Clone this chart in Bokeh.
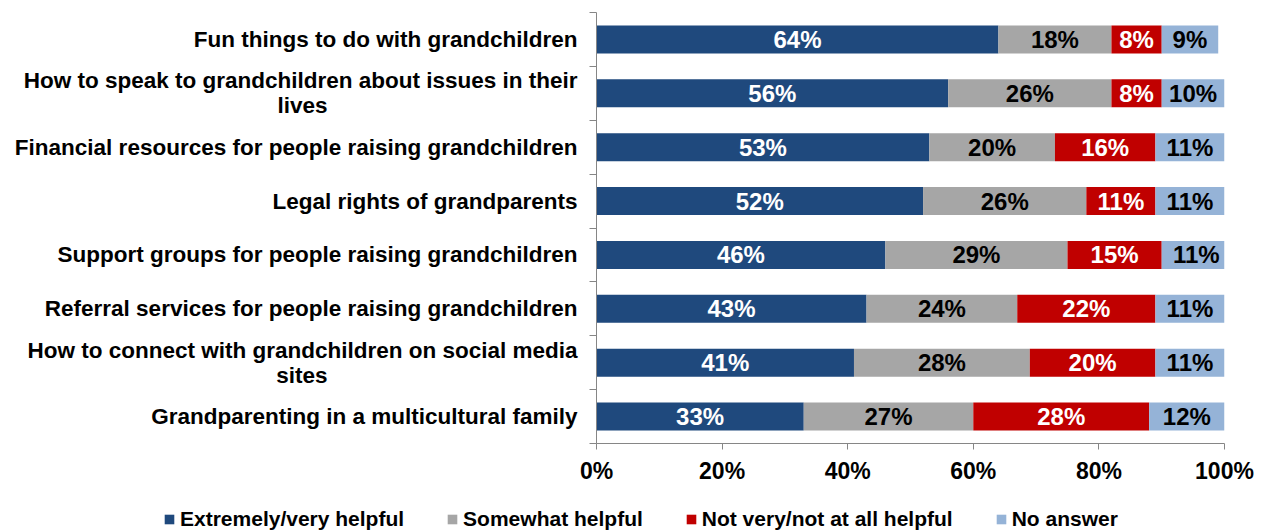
from bokeh.plotting import figure
from bokeh.layouts import column
from bokeh.models import ColumnDataSource, FixedTicker, NumeralTickFormatter, Legend, LegendItem, Range1d
from bokeh.core.properties import value
from bokeh.embed import file_html
from bokeh.resources import INLINE

# Data (top to bottom)
categories = [
    "Fun things to do with grandchildren",
    "How to speak to grandchildren about issues in their\nlives",
    "Financial resources for people raising grandchildren",
    "Legal rights of grandparents",
    "Support groups for people raising grandchildren",
    "Referral services for people raising grandchildren",
    "How to connect with grandchildren on social media\nsites",
    "Grandparenting in a multicultural family",
]
extremely = [64, 56, 53, 52, 46, 43, 41, 33]
somewhat = [18, 26, 20, 26, 29, 24, 28, 27]
not_helpful = [8, 8, 16, 11, 15, 22, 20, 28]
no_answer = [9, 10, 11, 11, 11, 11, 11, 12]
series_names = ["Extremely/very helpful", "Somewhat helpful", "Not very/not at all helpful", "No answer"]
x_ticks = [0, 0.2, 0.4, 0.6, 0.8, 1.0]

colors = ["#1F497D", "#A6A6A6", "#C00000", "#95B3D7"]
label_colors = ["white", "black", "white", "black"]
FONT = "Liberation Sans"

# approximate bold-sans advance widths (em/1000) used only to centre wrapped label lines
_W = {" ": 278, "a": 556, "b": 611, "c": 556, "d": 611, "e": 556, "f": 333, "g": 611, "h": 611,
      "i": 278, "j": 278, "k": 556, "l": 278, "m": 889, "n": 611, "o": 611, "p": 611, "q": 611,
      "r": 389, "s": 556, "t": 333, "u": 611, "v": 556, "w": 778, "x": 556, "y": 556, "z": 500,
      "H": 722, "F": 611, "G": 778, "L": 611, "R": 722, "S": 667}


def centred(label):
    lines = label.split("\n")
    if len(lines) == 1:
        return label
    widths = [sum(_W.get(ch, 556) for ch in ln) for ln in lines]
    mw = max(widths)
    out = []
    for ln, w in zip(lines, widths):
        pad = int(round((mw - w) / 2 / _W[" "]))
        out.append(ln + "\u00a0" * pad)
    return "\n".join(out)


n = len(categories)
ypos = [n - i - 0.5 for i in range(n)]
series = [extremely, somewhat, not_helpful, no_answer]
keys = ["s0", "s1", "s2", "s3"]

data = {"y": ypos}
for k, s in zip(keys, series):
    data[k] = [v / 100 for v in s]
src = ColumnDataSource(data)

p = figure(width=1261, height=500, output_backend="svg", toolbar_location=None,
           x_range=Range1d(0, 1), y_range=Range1d(0, n),
           min_border_left=596, min_border_right=37, min_border_top=12, min_border_bottom=57)
p.outline_line_color = None
p.xgrid.visible = False
p.ygrid.visible = False

renderers = p.hbar_stack(keys, y="y", height=0.52, fill_color=colors, line_color=None, source=src)

# value labels
cum = [0.0] * n
for k, s, tc in zip(keys, series, label_colors):
    mids = []
    for i, v in enumerate(s):
        mids.append(cum[i] + v / 200)
        cum[i] += v / 100
    lsrc = ColumnDataSource(dict(x=mids, y=ypos, t=[f"{v}%" for v in s]))
    p.text(x="x", y="y", text="t", source=lsrc, text_align="center", text_baseline="middle",
           text_color=tc, text_font=value(FONT), text_font_style="bold", text_font_size="24px")

# axes
axcol = "#868686"
p.xaxis.ticker = FixedTicker(ticks=x_ticks)
p.xaxis.formatter = NumeralTickFormatter(format="0%")
p.xaxis.major_tick_in = 0
p.xaxis.major_tick_out = 6
p.xaxis.minor_tick_line_color = None
p.xaxis.axis_line_color = axcol
p.xaxis.major_tick_line_color = axcol
p.xaxis.major_label_text_font = FONT
p.xaxis.major_label_text_font_style = "bold"
p.xaxis.major_label_text_font_size = "23px"
p.xaxis.major_label_text_color = "black"
p.xaxis.major_label_standoff = 8

p.yaxis.ticker = FixedTicker(ticks=ypos, minor_ticks=list(range(n + 1)))
p.yaxis.major_label_overrides = {y: centred(c) for y, c in zip(ypos, categories)}
p.yaxis.major_tick_in = 0
p.yaxis.major_tick_out = 0
p.yaxis.minor_tick_in = 0
p.yaxis.minor_tick_out = 7
p.yaxis.minor_tick_line_color = axcol
p.yaxis.axis_line_color = axcol
p.yaxis.major_label_text_font = FONT
p.yaxis.major_label_text_font_style = "bold"
p.yaxis.major_label_text_font_size = "22.5px"
p.yaxis.major_label_text_line_height = 1.0
p.yaxis.major_label_text_color = "black"
p.yaxis.major_label_standoff = 12

# legend strip (separate figure; its hidden stacked bars only supply the legend swatches)
lg = figure(width=1261, height=31, output_backend="svg", toolbar_location=None,
            x_range=Range1d(0, 1), y_range=Range1d(-20, -19),
            x_axis_location=None, y_axis_location=None,
            min_border_left=0, min_border_right=0, min_border_top=0, min_border_bottom=0)
lg.outline_line_color = None
lg.grid.visible = False
for fig in (p, lg):
    if "frame_align" in fig.properties():
        fig.frame_align = False
lg_renderers = lg.hbar_stack(keys, y="y", height=0.52, fill_color=colors, line_color=None, source=src)
for r in lg_renderers:
    r.visible = False
legend = Legend(
    items=[LegendItem(label=nm, renderers=[r]) for nm, r in zip(series_names, lg_renderers)],
    orientation="horizontal", location=(163, 0), click_policy="none",
    glyph_width=12, glyph_height=12, label_standoff=5, spacing=42,
    label_text_font=FONT, label_text_font_style="bold", label_text_font_size="21px",
    label_text_color="black",
    label_height=20, padding=0, margin=0, border_line_color=None, background_fill_alpha=0,
)
lg.add_layout(legend, "center")

layout = column(p, column(lg), spacing=0)
open("out.html", "w").write(file_html(layout, INLINE))
